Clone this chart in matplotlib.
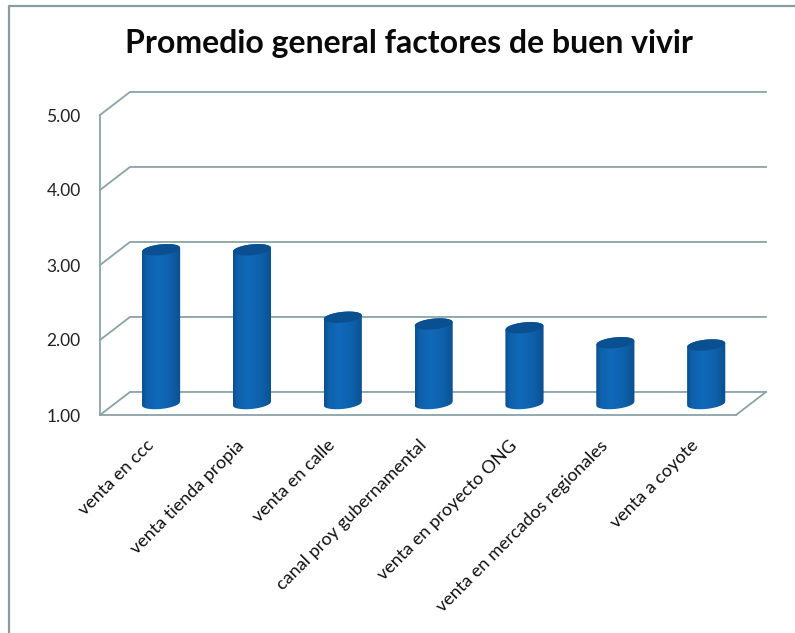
import numpy as np
from matplotlib import pyplot as plt
from matplotlib.patches import Polygon

W = 795
H = 633

categories = ['venta en ccc', 'venta tienda propia', 'venta en calle', 'canal proy gubernamental',
              'venta en proyecto ONG', 'venta en mercados regionales', 'venta a coyote']
values = [3.05, 3.05, 2.15, 2.06, 2.01, 1.81, 1.78]
y_ticks = [1, 2, 3, 4, 5]
y_labels = ['1.00', '2.00', '3.00', '4.00', '5.00']
title = 'Promedio general factores de buen vivir'

GRID = '#8aa3a6'
DEPTH_X = 0.33   # back wall offset, in categories
DEPTH_Y = 0.307  # back wall offset, in value units

fig = plt.figure(figsize=(W / 100, H / 100), dpi=100)
plt.rcParams['font.family'] = ['Lato', 'DejaVu Sans']

# outer frame of the chart
fig.add_artist(plt.Line2D([9 / W, 9 / W, 1], [0, 1 - 6 / H, 1 - 6 / H], color='#8b9ba3', lw=1.6))
fig.text(409 / W, 1 - 44 / H, title, ha='center', va='center', fontsize=23, fontweight='bold', color='#0a0a0a')

ax = fig.add_axes([100 / W, 1 - 415 / H, 636 / W, 300 / H])
ax.set_xlim(-0.5, 6.5)
ax.set_ylim(1, 5)
ax.patch.set_visible(False)
for s in ['top', 'right']:
    ax.spines[s].set_visible(False)
for s in ['left', 'bottom']:
    ax.spines[s].set_color(GRID)
    ax.spines[s].set_linewidth(1.3)

ax.set_yticks(y_ticks)
ax.set_yticklabels(y_labels, fontsize=12.5, color='#222222')
ax.tick_params(axis='y', length=0, pad=14)
ax.set_xticks(range(len(categories)))
ax.set_xticklabels(categories, rotation=45, ha='right', rotation_mode='anchor', fontsize=13, color='#111111')
ax.tick_params(axis='x', length=0, pad=16)

# back wall lines and the floor edge
for v in y_ticks:
    ax.plot([-0.5, -0.5 + DEPTH_X, 6.5 + DEPTH_X], [v, v + DEPTH_Y, v + DEPTH_Y], color=GRID, lw=1.3, clip_on=False)
ax.plot([6.5, 6.5 + DEPTH_X], [1, 1 + DEPTH_Y], color=GRID, lw=1.3, clip_on=False)

# cylinders, placed halfway into the depth
half = 0.21
mid_x = 0.172
mid_y = 0.153
rx = np.linspace(-1, 1, 60)
shade = np.interp(np.linspace(0, 1, 200), [0, 0.12, 0.4, 0.75, 1], [0, 0.65, 1, 0.6, 0])[None, :, None]
dark = np.array([0x0b, 0x4f, 0x8e]) / 255
light = np.array([0x10, 0x6a, 0xba]) / 255
grad = dark + (light - dark) * shade
for i, v in enumerate(values):
    cx = i + mid_x
    tilt = 0.025 * rx
    arc = 0.072 * np.sqrt(1 - rx ** 2)
    low = 1 + mid_y + tilt - arc
    up = v + mid_y + tilt + arc
    dn = v + mid_y + tilt - arc
    xs = cx + half * rx
    body = Polygon(np.r_[np.c_[xs, low], np.c_[xs[::-1], up[::-1]]], closed=True, fc='none', ec='none', zorder=3)
    ax.add_patch(body)
    im = ax.imshow(grad, extent=[cx - half, cx + half, 1, 5], aspect='auto', zorder=3, interpolation='bilinear')
    im.set_clip_path(body)
    ax.add_patch(Polygon(np.r_[np.c_[xs, dn], np.c_[xs[::-1], up[::-1]]], closed=True, fc='#0a5091', ec='none', zorder=4))
ax.set_xlim(-0.5, 6.5)
ax.set_ylim(1, 5)

fig.savefig('out.png', dpi=100)
